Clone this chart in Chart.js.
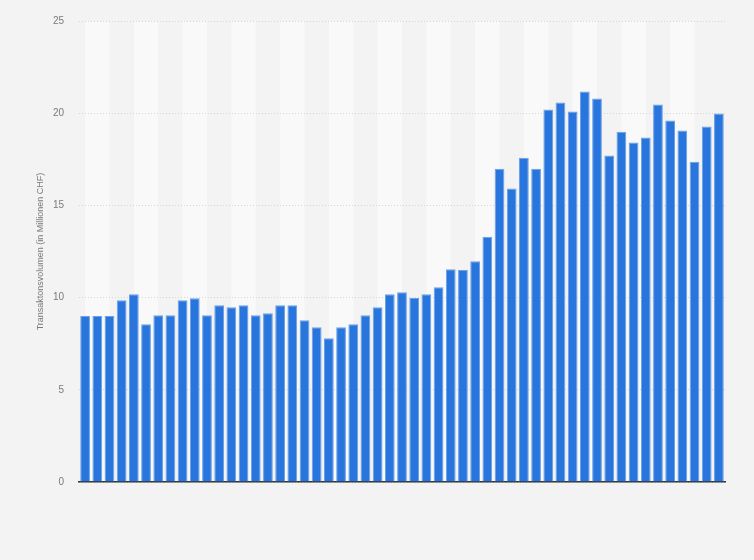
<!DOCTYPE html>
<html>
<head>
<meta charset="utf-8">
<script src="https://cdn.jsdelivr.net/npm/chart.js@4.4.1/dist/chart.umd.min.js"></script>
<style>
    html, body { margin: 0; padding: 0; background: #f3f3f3; }
    #wrap { width: 754px; height: 560px; }
</style>
</head>
<body>
<div id="wrap"><canvas id="volumen" width="754" height="560"></canvas></div>
<script>
// Data
const labels = [
    '1', '2', '3', '4', '5', '6', '7', '8', '9', '10',
    '11', '12', '13', '14', '15', '16', '17', '18', '19', '20',
    '21', '22', '23', '24', '25', '26', '27', '28', '29', '30',
    '31', '32', '33', '34', '35', '36', '37', '38', '39', '40',
    '41', '42', '43', '44', '45', '46', '47', '48', '49', '50',
    '51', '52', '53',
]
const volumen = [
    9.0, 9.0, 9.0, 9.86, 10.18, 8.55, 9.04, 9.04, 9.86, 9.96,
    9.04, 9.58, 9.47, 9.58, 9.04, 9.15, 9.58, 9.58, 8.77, 8.39,
    7.79, 8.39, 8.55, 9.04, 9.47, 10.18, 10.29, 9.98, 10.18, 10.56,
    11.54, 11.49, 11.97, 13.3, 16.99, 15.91, 17.59, 16.99, 20.2, 20.58,
    20.09, 21.18, 20.8, 17.7, 19.0, 18.41, 18.68, 20.47, 19.6, 19.06,
    17.37, 19.28, 19.98,
]
const yTicks = [0, 5, 10, 15, 20, 25]
const yTitle = 'Transaktonsvolumen (in Millionen CHF)'

// Colors
const pageBg = '#f3f3f3'
const bandBg = '#f9f9f9'
const barBlue = '#2876dd'
const barEdge = '#6aa0e6'
const gridGrey = '#d6d6d6'
const textGrey = '#7a7a7a'

// light column bands behind the bars, from the centre of one bar to the centre of the bar two further on
const bands = {
    id: 'bands',
    beforeDraw(chart) {
        const { ctx, chartArea, scales } = chart
        ctx.save()
        ctx.fillStyle = pageBg
        ctx.fillRect(0, 0, chart.width, chart.height)
        ctx.fillStyle = bandBg
        for (let i = 0; i + 2 < labels.length; i += 4) {
            const x0 = scales.x.getPixelForValue(i)
            const x1 = scales.x.getPixelForValue(i + 2)
            ctx.fillRect(x0, chartArea.top, x1 - x0, chartArea.bottom - chartArea.top)
        }
        ctx.restore()
    },
}

new Chart(document.getElementById('volumen'), {
    type: 'bar',
    data: {
        labels: labels,
        datasets: [
            {
                data: volumen,
                backgroundColor: barBlue,
                borderColor: barEdge,
                borderWidth: { top: 1, left: 1, right: 1, bottom: 0 },
                barPercentage: 0.8,
                categoryPercentage: 1,
            },
        ],
    },
    options: {
        responsive: false,
        animation: false,
        layout: { padding: { top: 20, right: 29, bottom: 70, left: 0 } },
        plugins: {
            legend: { display: false },
            tooltip: { enabled: true },
        },
        scales: {
            x: {
                grid: { display: false },
                ticks: { display: false },
                border: { display: true, color: '#333333', width: 1.5 },
            },
            y: {
                min: 0,
                max: 25,
                afterBuildTicks: (scale) => {
                    scale.ticks = yTicks.map((v) => ({ value: v }))
                },
                afterFit: (scale) => {
                    scale.width = 79
                },
                grid: {
                    color: gridGrey,
                    drawTicks: false,
                    lineWidth: 1,
                },
                border: { display: false, dash: [1, 2] },
                ticks: {
                    padding: 15,
                    color: textGrey,
                    font: { family: 'Liberation Sans, Arial, sans-serif', size: 10 },
                },
                title: {
                    display: true,
                    text: yTitle,
                    color: textGrey,
                    padding: { top: 35, bottom: 0 },
                    font: { family: 'Liberation Sans, Arial, sans-serif', size: 9 },
                },
            },
        },
    },
    plugins: [bands],
})
</script>
</body>
</html>
